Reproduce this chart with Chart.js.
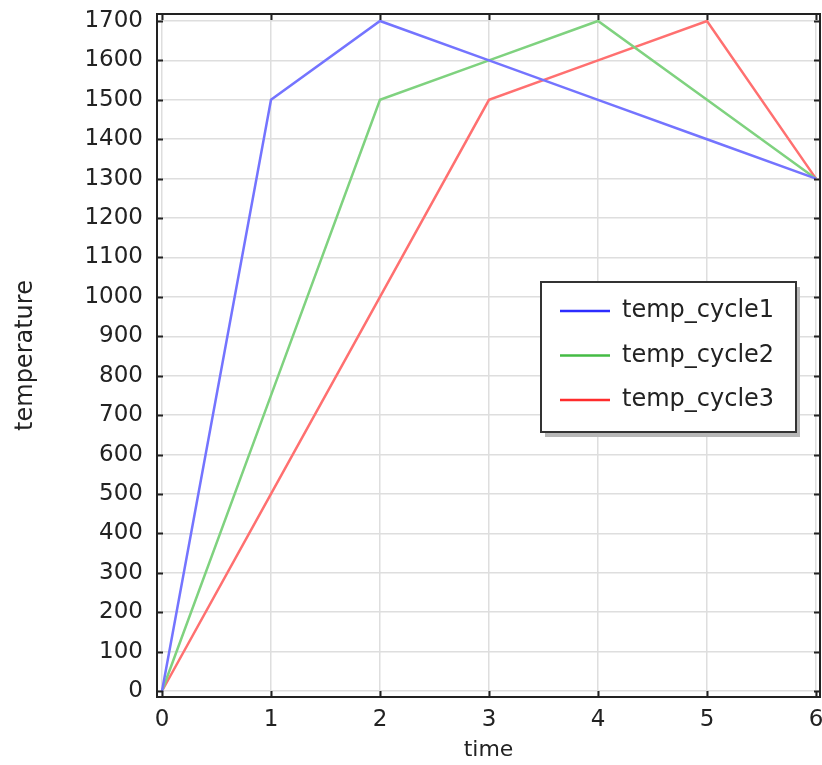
<!DOCTYPE html>
<html>
<head>
<meta charset="utf-8">
<script src="https://cdn.jsdelivr.net/npm/chart.js@4/dist/chart.umd.min.js"></script>
<style>
  html, body { margin: 0; padding: 0; background: #fff; }
  canvas { display: block; }
</style>
</head>
<body>
<canvas id="chart" width="822" height="765"></canvas>
<script>
// time steps and the three temperature cycles
const times = [0, 1, 2, 3, 4, 5, 6];
const tempCycle1 = [0, 1500, 1700, 1600, 1500, 1400, 1300];
const tempCycle2 = [0, 750, 1500, 1600, 1700, 1500, 1300];
const tempCycle3 = [0, 500, 1000, 1500, 1600, 1700, 1300];

const seriesNames = ['temp_cycle1', 'temp_cycle2', 'temp_cycle3'];
const lineColors = ['#7474ff', '#7fd27f', '#ff7070'];
const keyColors = ['#2c2cff', '#44bb44', '#ff2c2c'];

const xTicks = [0, 1, 2, 3, 4, 5, 6];
const yTicks = [0, 100, 200, 300, 400, 500, 600, 700, 800, 900, 1000,
  1100, 1200, 1300, 1400, 1500, 1600, 1700];

const FONT = 'DejaVu Sans';

const toPoints = (ys) => ys.map((y, i) => ({ x: times[i], y }));

// keep the plot box where the padding puts it, labels may overhang
const noOverhang = (scale) => {
  scale.paddingTop = 0;
  scale.paddingRight = 0;
  scale.paddingLeft = 0;
  scale.paddingBottom = 0;
};

// black box round the plot, ticks pointing inwards on all four sides
const framePlugin = {
  id: 'frame',
  afterDraw(chart) {
    const { ctx, chartArea: a, scales } = chart;
    const len = 6;
    ctx.save();
    ctx.strokeStyle = '#222';
    ctx.lineWidth = 2;
    ctx.strokeRect(a.left, a.top, a.right - a.left, a.bottom - a.top);
    ctx.beginPath();
    xTicks.forEach(v => {
      const px = Math.round(scales.x.getPixelForValue(v)) + 0.5;
      ctx.moveTo(px, a.bottom); ctx.lineTo(px, a.bottom - len);
      ctx.moveTo(px, a.top); ctx.lineTo(px, a.top + len);
    });
    yTicks.forEach(v => {
      const py = Math.round(scales.y.getPixelForValue(v)) + 0.5;
      ctx.moveTo(a.left, py); ctx.lineTo(a.left + len, py);
      ctx.moveTo(a.right, py); ctx.lineTo(a.right - len, py);
    });
    ctx.stroke();
    ctx.restore();
  }
};

// boxed key with a drop shadow, sitting inside the plot
const keyPlugin = {
  id: 'keyBox',
  afterDraw(chart) {
    const { ctx } = chart;
    const bx = 541, by = 282, bw = 255, bh = 150;
    ctx.save();
    ctx.fillStyle = '#b8b8b8';
    ctx.fillRect(bx + 4, by + 5, bw, bh);
    ctx.fillStyle = '#fff';
    ctx.fillRect(bx, by, bw, bh);
    ctx.strokeStyle = '#333';
    ctx.lineWidth = 2;
    ctx.strokeRect(bx, by, bw, bh);
    ctx.font = '24px ' + FONT;
    ctx.textBaseline = 'middle';
    ctx.textAlign = 'left';
    chart.data.datasets.forEach((ds, i) => {
      const y = by + 29 + i * 44.5;
      ctx.strokeStyle = keyColors[i];
      ctx.lineWidth = 2.5;
      ctx.beginPath();
      ctx.moveTo(bx + 19, y);
      ctx.lineTo(bx + 69, y);
      ctx.stroke();
      ctx.fillStyle = '#222';
      ctx.fillText(ds.label, bx + 81, y);
    });
    ctx.restore();
  }
};

new Chart(document.getElementById('chart'), {
  type: 'line',
  data: {
    datasets: [tempCycle1, tempCycle2, tempCycle3].map((vals, i) => ({
      label: seriesNames[i],
      data: toPoints(vals),
      borderColor: lineColors[i],
      borderWidth: 2.5,
      pointRadius: 0,
      tension: 0,
      fill: false
    }))
  },
  options: {
    responsive: false,
    animation: false,
    devicePixelRatio: 1,
    layout: { padding: { top: 14, right: 2, left: 0, bottom: 0 } },
    plugins: {
      legend: { display: false },
      tooltip: { enabled: false }
    },
    scales: {
      x: {
        type: 'linear',
        min: -0.046,
        max: 6.037,
        afterBuildTicks: (scale) => { scale.ticks = xTicks.map(v => ({ value: v })); },
        afterFit: (scale) => { scale.height = 68; noOverhang(scale); },
        grid: { color: '#dedede', lineWidth: 1.5, drawTicks: false },
        border: { display: false },
        ticks: {
          padding: 9,
          maxRotation: 0,
          color: '#222',
          font: { family: FONT, size: 23 },
          callback: (v) => String(v)
        },
        title: {
          display: true,
          text: 'time',
          color: '#222',
          font: { family: FONT, size: 22 },
          padding: { top: 0, bottom: 2 }
        }
      },
      y: {
        min: -15.2,
        max: 1717.8,
        afterBuildTicks: (scale) => { scale.ticks = yTicks.map(v => ({ value: v })); },
        afterFit: (scale) => { scale.width = 157; noOverhang(scale); },
        grid: { color: '#dedede', lineWidth: 1.5, drawTicks: false },
        border: { display: false },
        ticks: {
          padding: 14,
          color: '#222',
          font: { family: FONT, size: 23 },
          callback: (v) => String(v)
        },
        title: {
          display: true,
          text: 'temperature',
          color: '#222',
          font: { family: FONT, size: 24 },
          padding: { top: 11, bottom: 0 }
        }
      }
    }
  },
  plugins: [framePlugin, keyPlugin]
});
</script>
</body>
</html>
